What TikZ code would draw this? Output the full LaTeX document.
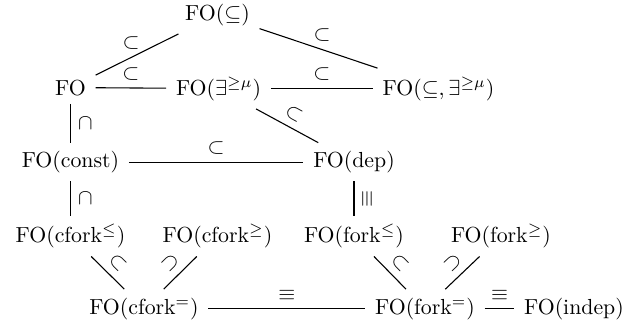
\documentclass[tikz,border=0pt]{standalone}
\begin{document}
\begin{tikzpicture}[x=0.4587pt,y=-0.4587pt]
\tikzset{
  obj/.style={anchor=base, inner xsep=4.3pt, inner ysep=3.7pt},
  rel/.style={draw=black, line width=0.5pt},
  lbl/.style={inner sep=3.3pt},
}
\useasboundingbox (0,0) rectangle (624,329);
% row 1
\node[obj] (FOsub)   at (217.5,20)  {FO($\subseteq$)};
% row 2
\node[obj] (FO)      at (70.5,95)   {FO};
\node[obj] (FOex)    at (218.5,95)  {FO($\exists^{\geq\mu}$)};
\node[obj] (FOsubex) at (438.5,95)  {FO($\subseteq,\exists^{\geq\mu}$)};
% row 3
\node[obj] (const)   at (70.5,167.5) {FO(const)};
\node[obj] (dep)     at (354,167.5)  {FO(dep)};
% row 4
\node[obj] (cforkle) at (70.5,242.5) {FO(cfork$^{\leq}$)};
\node[obj] (cforkge) at (217.5,242.5) {FO(cfork$^{\geq}$)};
\node[obj] (forkle)  at (354,242.5)  {FO(fork$^{\leq}$)};
\node[obj] (forkge)  at (501,242.5)  {FO(fork$^{\geq}$)};
% row 5
\node[obj] (cforkeq) at (144,314)   {FO(cfork$^{=}$)};
\node[obj] (forkeq)  at (425,314)   {FO(fork$^{=}$)};
\node[obj] (indep)   at (574,314)   {FO(indep)};
% connectors
\draw[rel] (FO) -- node[lbl, above, pos=.43] {$\subset$} (FOsub);
\draw[rel] (FOsub) -- node[lbl, above, pos=.53] {$\subset$} (FOsubex);
\draw[rel] (FO) -- node[lbl, above] {$\subset$} (FOex);
\draw[rel] (FOex) -- node[lbl, above] {$\subset$} (FOsubex);
\draw[rel] (FOex) -- node[lbl, above, sloped] {$\subset$} (dep);
\draw[rel] (FO) -- node[lbl, right] {$\cap$} (const);
\draw[rel] (const) -- node[lbl, above] {$\subset$} (dep);
\draw[rel] (const) -- node[lbl, right] {$\cap$} (cforkle);
\draw[rel] (dep) -- node[lbl, above, sloped] {$\equiv$} (forkle);
\draw[rel] (cforkle) -- node[lbl, above, sloped] {$\subset$} (cforkeq);
\draw[rel] (cforkge) -- node[lbl, above, sloped] {$\supset$} (cforkeq);
\draw[rel] (forkle) -- node[lbl, above, sloped] {$\subset$} (forkeq);
\draw[rel] (forkge) -- node[lbl, above, sloped] {$\supset$} (forkeq);
\draw[rel] (cforkeq) -- node[lbl, above] {$\equiv$} (forkeq);
\draw[rel] (forkeq) -- node[lbl, above] {$\equiv$} (indep);
\end{tikzpicture}
\end{document}
